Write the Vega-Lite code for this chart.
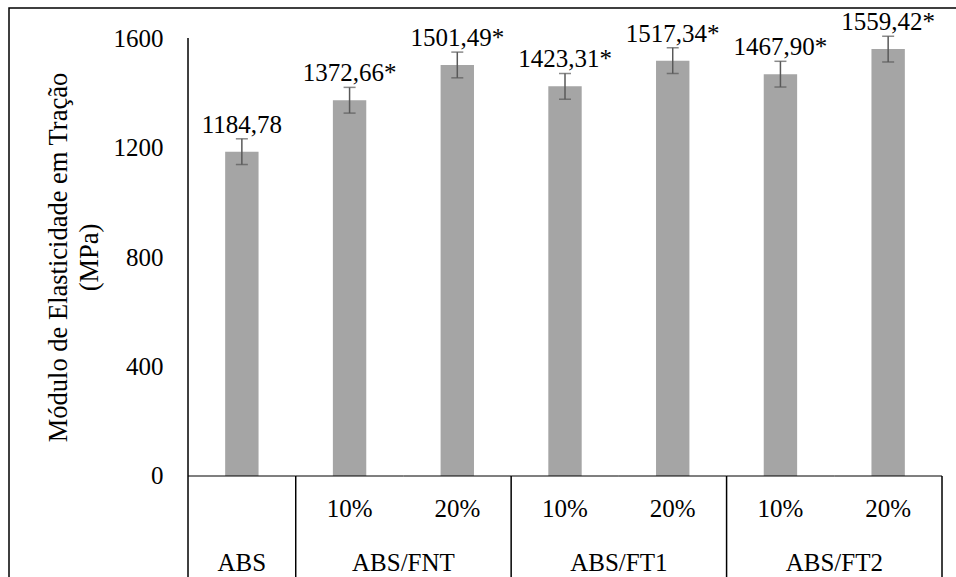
{
  "$schema": "https://vega.github.io/schema/vega-lite/v6.json",
  "autosize": "none",
  "padding": {"left": 9, "top": 8, "right": 0, "bottom": 0},
  "width": 950,
  "height": 572,
  "background": "white",
  "view": {"stroke": "#000000", "strokeWidth": 1.5, "fill": "white"},
  "config": {
    "view": {"stroke": "#000000", "strokeWidth": 1.5}
  },
  "resolve": {"axis": {"y": "independent"}},
  "datasets": {
    "main": [
      {"cat": "ABS", "group": "ABS", "sub": "", "modulo": 1184.78, "dp": 47, "label": "1184,78"},
      {"cat": "ABS/FNT 10%", "group": "ABS/FNT", "sub": "10%", "modulo": 1372.66, "dp": 47, "label": "1372,66*"},
      {"cat": "ABS/FNT 20%", "group": "ABS/FNT", "sub": "20%", "modulo": 1501.49, "dp": 47, "label": "1501,49*"},
      {"cat": "ABS/FT1 10%", "group": "ABS/FT1", "sub": "10%", "modulo": 1423.31, "dp": 47, "label": "1423,31*"},
      {"cat": "ABS/FT1 20%", "group": "ABS/FT1", "sub": "20%", "modulo": 1517.34, "dp": 47, "label": "1517,34*"},
      {"cat": "ABS/FT2 10%", "group": "ABS/FT2", "sub": "10%", "modulo": 1467.90, "dp": 47, "label": "1467,90*"},
      {"cat": "ABS/FT2 20%", "group": "ABS/FT2", "sub": "20%", "modulo": 1559.42, "dp": 47, "label": "1559,42*"}
    ],
    "groups": [
      {"group": "ABS/FNT", "cat": "ABS/FNT 20%"},
      {"group": "ABS/FT1", "cat": "ABS/FT1 20%"},
      {"group": "ABS/FT2", "cat": "ABS/FT2 20%"}
    ],
    "seps": [
      {"cat": "ABS/FNT 10%"},
      {"cat": "ABS/FT1 10%"},
      {"cat": "ABS/FT2 10%"}
    ]
  },
  "encoding": {
    "x": {
      "field": "cat",
      "type": "nominal",
      "axis": null,
      "scale": {
        "domain": ["ABS", "ABS/FNT 10%", "ABS/FNT 20%", "ABS/FT1 10%", "ABS/FT1 20%", "ABS/FT2 10%", "ABS/FT2 20%"],
        "paddingInner": 0,
        "paddingOuter": 0.9098,
        "align": 0.9133
      }
    }
  },
  "layer": [
    {
      "data": {"name": "main"},
      "mark": {"type": "bar", "color": "#A5A5A5", "width": {"band": 0.31}},
      "encoding": {
        "y": {
          "field": "modulo",
          "type": "quantitative",
          "scale": {"domain": [-379.91, 1709.59], "nice": false, "zero": false},
          "axis": {
            "values": [0, 400, 800, 1200, 1600],
            "format": "d",
            "domain": false,
            "ticks": false,
            "grid": false,
            "offset": -179,
            "labelPadding": 25,
            "labelFont": "Liberation Serif",
            "labelFontSize": 25,
            "labelColor": "#000000",
            "title": ["Módulo de Elasticidade em Tração", "(MPa)"],
            "titleFont": "Liberation Serif",
            "titleFontSize": 26.5,
            "titleFontWeight": "normal",
            "titleColor": "#000000",
            "titleAngle": -90,
            "titleAlign": "center",
            "titleBaseline": "middle",
            "titleLineHeight": 31,
            "titleX": -130,
            "titleY": 249
          }
        }
      }
    },
    {
      "data": {"name": "main"},
      "mark": {"type": "errorbar", "color": "#595959", "thickness": 1.5, "ticks": {"size": 12}},
      "encoding": {
        "y": {"field": "modulo", "type": "quantitative", "axis": null},
        "yError": {"field": "dp"}
      }
    },
    {
      "data": {"name": "main"},
      "mark": {"type": "text", "baseline": "alphabetic", "dy": -19, "align": "center", "font": "Liberation Serif", "fontSize": 25, "color": "#000000"},
      "encoding": {
        "y": {"field": "modulo", "type": "quantitative", "axis": null},
        "text": {"field": "label"}
      }
    },
    {
      "data": {"name": "main"},
      "mark": {"type": "text", "baseline": "alphabetic", "align": "center", "font": "Liberation Serif", "fontSize": 25, "color": "#000000"},
      "encoding": {
        "y": {"datum": -150, "axis": null},
        "text": {"field": "sub"}
      }
    },
    {
      "data": {"name": "groups"},
      "mark": {"type": "text", "baseline": "alphabetic", "align": "center", "font": "Liberation Serif", "fontSize": 25, "color": "#000000"},
      "encoding": {
        "x": {"field": "cat", "type": "nominal", "bandPosition": 0},
        "y": {"datum": -347, "axis": null},
        "text": {"field": "group"}
      }
    },
    {
      "data": {"name": "main"},
      "transform": [{"filter": "datum.cat === 'ABS'"}],
      "mark": {"type": "text", "baseline": "alphabetic", "align": "center", "font": "Liberation Serif", "fontSize": 25, "color": "#000000"},
      "encoding": {
        "y": {"datum": -347, "axis": null},
        "text": {"field": "group"}
      }
    },
    {
      "data": {"name": "main"},
      "mark": {"type": "bar", "fill": null, "fillOpacity": 0, "stroke": "#000000", "strokeWidth": 1.2, "width": {"band": 1}},
      "encoding": {
        "y": {"datum": 0, "axis": null},
        "y2": {"datum": 0}
      }
    },
    {
      "data": {"name": "main"},
      "transform": [{"filter": "datum.cat === 'ABS'"}],
      "mark": {"type": "rule", "color": "#000000", "strokeWidth": 1.5},
      "encoding": {
        "x": {"field": "cat", "type": "nominal", "bandPosition": 0},
        "y": {"datum": 1600, "axis": null},
        "y2": {"datum": -380}
      }
    },
    {
      "data": {"name": "seps"},
      "mark": {"type": "rule", "color": "#000000", "strokeWidth": 1.5},
      "encoding": {
        "x": {"field": "cat", "type": "nominal", "bandPosition": 0},
        "y": {"datum": 0, "axis": null},
        "y2": {"datum": -380}
      }
    },
    {
      "data": {"name": "main"},
      "transform": [{"filter": "datum.cat === 'ABS/FT2 20%'"}],
      "mark": {"type": "rule", "color": "#000000", "strokeWidth": 1.5},
      "encoding": {
        "x": {"field": "cat", "type": "nominal", "bandPosition": 1},
        "y": {"datum": 0, "axis": null},
        "y2": {"datum": -380}
      }
    }
  ]
}
